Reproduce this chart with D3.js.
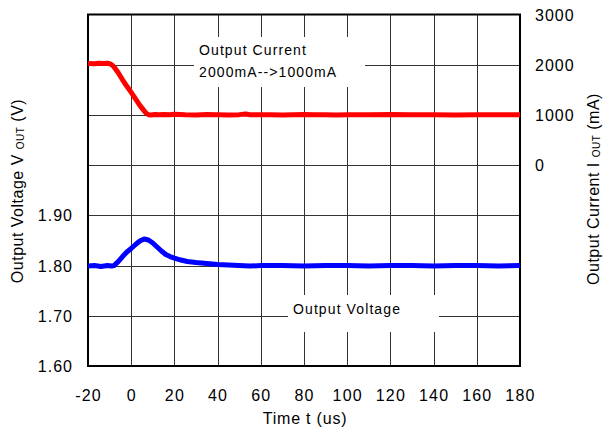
<!DOCTYPE html>
<html>
<head>
<meta charset="utf-8">
<script src="https://cdn.jsdelivr.net/npm/d3@7"></script>
<style>
  body { margin: 0; background: #fff; }
  svg text { font-family: "Liberation Sans", Arial, sans-serif; fill: #000; }
</style>
</head>
<body>
<div id="chart"></div>
<script>
// time axis (us)
const timeTicks = [-20, 0, 20, 40, 60, 80, 100, 120, 140, 160, 180];
const voltTicks = [1.60, 1.70, 1.80, 1.90];
const currTicks = [0, 1000, 2000, 3000];

// output current trace (t us, mA)
const currT = [-20, -17, -15, -13, -11, -10, -9, -8, -6, -4, -2, 0, 2, 4, 6, 7, 8, 9, 11, 13, 15, 18, 20, 25, 30, 35, 40, 45, 50, 53, 55, 60, 65, 70, 75, 80, 85, 90, 95, 100, 110, 120, 130, 140, 150, 160, 170, 180];
const currI = [2025, 2020, 2030, 2022, 2028, 2020, 2000, 1960, 1840, 1700, 1570, 1450, 1320, 1190, 1080, 1030, 1005, 1000, 1008, 1003, 1010, 1002, 1015, 1005, 1000, 1008, 1004, 1000, 1006, 1018, 1004, 1002, 1006, 1000, 1004, 1008, 1002, 1005, 1000, 1006, 1003, 1008, 1002, 1005, 1000, 1006, 1002, 1004];

// output voltage trace (t us, V)
const voltT = [-20, -17, -14, -11, -9, -8, -6, -4, -2, 0, 2, 4, 6, 8, 10, 12, 14, 16, 18, 20, 23, 26, 30, 35, 40, 45, 50, 55, 60, 70, 80, 90, 100, 110, 120, 130, 140, 150, 160, 170, 180];
const voltV = [1.799, 1.800, 1.798, 1.800, 1.799, 1.800, 1.808, 1.818, 1.827, 1.834, 1.842, 1.849, 1.853, 1.851, 1.845, 1.837, 1.829, 1.822, 1.818, 1.815, 1.811, 1.808, 1.806, 1.804, 1.802, 1.801, 1.800, 1.799, 1.800, 1.800, 1.799, 1.800, 1.800, 1.799, 1.800, 1.800, 1.799, 1.800, 1.800, 1.799, 1.800];

const width = 609, height = 435;
const plotLeft = 88, plotRight = 520, plotTop = 14.5, plotBottom = 366;

const svg = d3.select('#chart').append('svg')
    .attr('width', width)
    .attr('height', height);

const x = d3.scaleLinear().domain([-20, 180]).range([plotLeft, plotRight]);
const yV = d3.scaleLinear().domain([1.60, 2.30]).range([plotBottom, plotTop]);
const yI = d3.scaleLinear().domain([-4000, 3000]).range([plotBottom, plotTop]);

// grid
const grid = svg.append('g').attr('stroke', '#333').attr('stroke-width', 1);
grid.selectAll('line.v')
    .data(timeTicks.slice(1, -1))
    .enter().append('line')
    .attr('x1', d => Math.round(x(d)) + 0.5).attr('x2', d => Math.round(x(d)) + 0.5)
    .attr('y1', plotTop).attr('y2', plotBottom);
grid.selectAll('line.h')
    .data(d3.range(1, 7))
    .enter().append('line')
    .attr('x1', plotLeft).attr('x2', plotRight)
    .attr('y1', d => Math.round(yI(-4000 + d * 1000)) + 0.5)
    .attr('y2', d => Math.round(yI(-4000 + d * 1000)) + 0.5);

// label boxes (cover the grid)
svg.append('rect').attr('x', 194).attr('y', 37).attr('width', 171).attr('height', 50).attr('fill', '#fff');
svg.append('rect').attr('x', 288).attr('y', 295).attr('width', 151).attr('height', 37).attr('fill', '#fff');

const note = (tx, ty, s) => svg.append('text')
    .attr('x', tx).attr('y', ty)
    .attr('font-size', 14).attr('letter-spacing', 1.1)
    .text(s);
note(199, 55, 'Output Current');
note(199, 77, '2000mA-->1000mA');
note(293, 314, 'Output Voltage');

// frame
svg.append('rect')
    .attr('x', plotLeft).attr('y', plotTop)
    .attr('width', plotRight - plotLeft).attr('height', plotBottom - plotTop)
    .attr('fill', 'none').attr('stroke', '#000').attr('stroke-width', 2);

// traces
const lineI = d3.line().x((d, i) => x(currT[i])).y(d => yI(d));
svg.append('path').datum(currI)
    .attr('d', lineI)
    .attr('fill', 'none').attr('stroke', '#ff0000').attr('stroke-width', 5)
    .attr('stroke-linejoin', 'round');

const lineV = d3.line().x((d, i) => x(voltT[i])).y(d => yV(d));
svg.append('path').datum(voltV)
    .attr('d', lineV)
    .attr('fill', 'none').attr('stroke', '#0000ff').attr('stroke-width', 5)
    .attr('stroke-linejoin', 'round');

// tick labels
svg.append('g').selectAll('text')
    .data(timeTicks).enter().append('text')
    .attr('x', d => x(d) + 0.5).attr('y', 401)
    .attr('text-anchor', 'middle').attr('font-size', 16).attr('letter-spacing', 1.2)
    .text(d => d);

svg.append('g').selectAll('text')
    .data(voltTicks).enter().append('text')
    .attr('x', 73).attr('y', d => yV(d) + 6)
    .attr('text-anchor', 'end').attr('font-size', 16).attr('letter-spacing', 1)
    .text(d => d.toFixed(2));

svg.append('g').selectAll('text')
    .data(currTicks).enter().append('text')
    .attr('x', 535).attr('y', d => yI(d) + 6)
    .attr('font-size', 16).attr('letter-spacing', 1)
    .text(d => d);

// axis titles
svg.append('text')
    .attr('x', (plotLeft + plotRight) / 2 + 1).attr('y', 424)
    .attr('text-anchor', 'middle').attr('font-size', 16).attr('letter-spacing', 0.8)
    .text('Time t (us)');

const yTitle = svg.append('text')
    .attr('transform', 'translate(23,191) rotate(-90)')
    .attr('text-anchor', 'middle').attr('font-size', 16).attr('letter-spacing', 0.5);
yTitle.append('tspan').text('Output Voltage V ');
yTitle.append('tspan').attr('font-size', 10).attr('dy', 1).text('OUT');
yTitle.append('tspan').attr('dy', -1).text(' (V)');

const iTitle = svg.append('text')
    .attr('transform', 'translate(599,189) rotate(-90)')
    .attr('text-anchor', 'middle').attr('font-size', 16).attr('letter-spacing', 0.5);
iTitle.append('tspan').text('Output Current I ');
iTitle.append('tspan').attr('font-size', 10).attr('dy', 1).text('OUT');
iTitle.append('tspan').attr('dy', -1).text(' (mA)');
</script>
</body>
</html>
